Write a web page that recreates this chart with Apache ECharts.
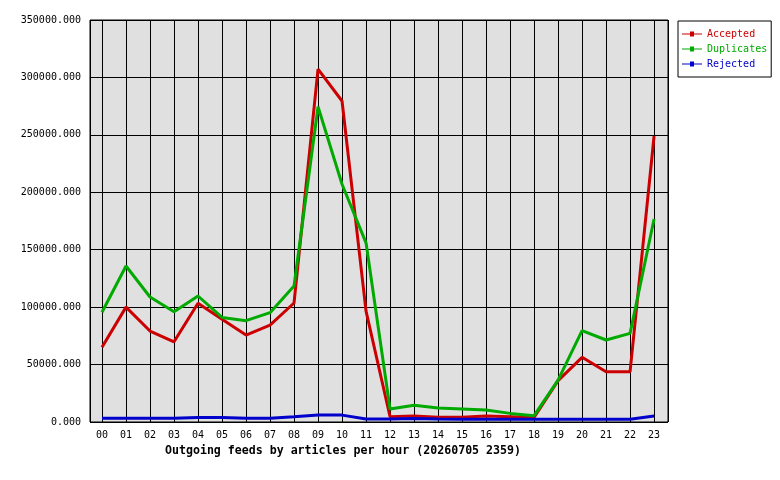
<!DOCTYPE html>
<html>
<head>
<meta charset="utf-8">
<script src="https://cdn.jsdelivr.net/npm/echarts@6/dist/echarts.min.js"></script>
<style>html,body{margin:0;padding:0;background:#fff}#c{width:780px;height:480px}</style>
</head>
<body>
<div id="c"></div>
<script>
const hours = ['00','01','02','03','04','05','06','07','08','09','10','11','12','13','14','15','16','17','18','19','20','21','22','23'];
const accepted = [65000,100000,79200,69800,103400,89500,75700,84400,103600,307300,279500,96600,4600,5200,4200,4200,5200,4600,4000,36000,56300,43800,43800,249000];
const duplicates = [95600,135800,108800,96000,109700,91000,88200,95200,118400,274500,207000,156000,11300,14500,12200,11300,10400,7500,5500,36500,79500,71400,77200,176700];
const rejected = [3200,3200,3300,3300,4000,4000,3300,3300,4600,6000,6000,2600,2600,3000,2700,2500,2500,2400,2400,2400,2400,2400,2400,5200];
const yTicks = [0,50000,100000,150000,200000,250000,300000,350000];
const titleText = 'Outgoing feeds by articles per hour (20260705 2359)';

const mono = 'DejaVu Sans Mono';
const toPairs = arr => arr.map((v, i) => [i, v]);
const iconPath = 'path://M0,3.5 h8 v-2 h4 v2 h8 v1 h-8 v2 h-4 v-2 h-8 z';

const chart = echarts.init(document.getElementById('c'), null, {renderer: 'canvas'});
chart.setOption({
  animation: false,
  backgroundColor: '#ffffff',
  title: {
    text: titleText,
    left: 165, top: 445,
    padding: 0,
    textStyle: {fontFamily: mono, fontWeight: 'bold', fontSize: 11.6, color: '#000'}
  },
  legend: {
    orient: 'vertical',
    left: 678, top: 21,
    padding: [7, 4, 7, 4],
    itemGap: 3,
    itemWidth: 20, itemHeight: 8,
    itemStyle: {borderWidth: 0},
    backgroundColor: '#fff',
    borderColor: '#000', borderWidth: 1, borderRadius: 0,
    textStyle: {fontFamily: mono, fontSize: 10, lineHeight: 12},
    data: [
      {name: 'Accepted', icon: iconPath, textStyle: {color: '#cc0000'}},
      {name: 'Duplicates', icon: iconPath, textStyle: {color: '#00aa00'}},
      {name: 'Rejected', icon: iconPath, textStyle: {color: '#0000cc'}}
    ]
  },
  grid: {
    left: 90, right: 112, top: 20, bottom: 58,
    show: true, backgroundColor: '#e0e0e0', borderColor: '#000', borderWidth: 1,
    containLabel: false
  },
  xAxis: {
    type: 'value',
    min: -0.5, max: 23.58,
    splitNumber: 24, minInterval: 1, maxInterval: 1,
    axisLine: {show: false},
    axisTick: {show: false},
    splitLine: {show: true, lineStyle: {color: '#000', width: 1}},
    axisLabel: {
      margin: 8,
      fontFamily: mono, fontSize: 10, color: '#000',
      formatter: v => (Number.isInteger(v) && hours[v] !== undefined) ? hours[v] : ''
    }
  },
  yAxis: {
    type: 'value',
    min: yTicks[0], max: yTicks[yTicks.length - 1], interval: 50000,
    axisLine: {show: false},
    axisTick: {show: true, length: 4, lineStyle: {color: '#000'}},
    splitLine: {show: true, lineStyle: {color: '#000', width: 1}},
    axisLabel: {
      margin: 9,
      fontFamily: mono, fontSize: 10, color: '#000',
      formatter: v => v.toFixed(3)
    }
  },
  series: [
    {name: 'Accepted', type: 'line', data: toPairs(accepted), symbol: 'none',
     lineStyle: {color: '#cc0000', width: 3}, itemStyle: {color: '#cc0000'}},
    {name: 'Duplicates', type: 'line', data: toPairs(duplicates), symbol: 'none',
     lineStyle: {color: '#00aa00', width: 3}, itemStyle: {color: '#00aa00'}},
    {name: 'Rejected', type: 'line', data: toPairs(rejected), symbol: 'none',
     lineStyle: {color: '#0000cc', width: 3}, itemStyle: {color: '#0000cc'}}
  ]
});
</script>
</body>
</html>
